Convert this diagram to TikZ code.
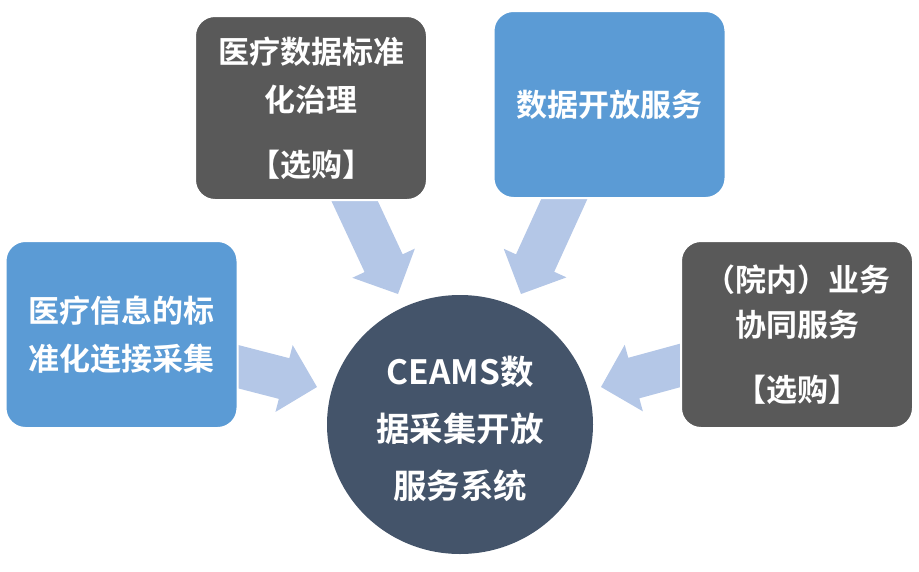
\documentclass[tikz,border=0pt]{standalone}
\usepackage{fontspec}
\setmainfont{Noto Sans CJK SC}[BoldFont={Noto Sans CJK SC Bold}]
\usetikzlibrary{calc,shapes.geometric}
\definecolor{boxblue}{HTML}{5B9BD5}
\definecolor{boxgray}{HTML}{595959}
\definecolor{circblue}{HTML}{44546A}
\definecolor{arrowblue}{HTML}{B4C7E7}
\tikzset{
  box/.style={rounded corners=20pt, draw=white, line width=2pt,
    minimum width=232pt, text=white, align=center,
    font=\bfseries\fontsize{31}{48}\selectfont},
  bluebox/.style={box, fill=boxblue},
  graybox/.style={box, fill=boxgray},
  hub/.style={ellipse, fill=circblue, minimum width=266pt, minimum height=259pt,
    inner sep=0pt},
  hubtextstyle/.style={text=white, align=center,
    font=\bfseries\fontsize{33.5}{57}\selectfont},
  arrowfill/.style={fill=arrowblue}
}
\newcommand\blockarrow[2]{%
  \coordinate (#1#2h) at ($(#2)!34pt!(#1)$);
  \fill[arrowfill] ($(#1)!21pt!90:(#2)$) -- ($(#1#2h)!21pt!90:(#2)$)
    -- ($(#1#2h)!34.5pt!90:(#2)$) -- (#2) -- ($(#1#2h)!34.5pt!-90:(#2)$)
    -- ($(#1#2h)!21pt!-90:(#2)$) -- ($(#1)!21pt!-90:(#2)$) -- cycle;}
\begin{document}
\begin{tikzpicture}[x=1pt,y=-1pt]
\useasboundingbox (0,0) rectangle (919,571);
% arrow end points
\coordinate (s1) at (342,174); \coordinate (t1) at (398,294);
\coordinate (s2) at (578,169); \coordinate (t2) at (521,294);
\coordinate (s3) at (220,362); \coordinate (t3) at (317,387);
\coordinate (s4) at (700,360); \coordinate (t4) at (601,387);
\blockarrow{s1}{t1}
\blockarrow{s2}{t2}
\blockarrow{s3}{t3}
\blockarrow{s4}{t4}
% boxes
\node[graybox, minimum height=184pt] (gov) at (311,108) {医疗数据标准\\化治理\\[17pt]【选购】};
\node[bluebox, minimum height=187pt] (open) at (609.5,104.5) {数据开放服务};
\node[bluebox, minimum height=187pt] (collect) at (121.5,334.5) {医疗信息的标\\准化连接采集};
\node[graybox, minimum height=187pt] (coop) at (797,334.5) {（院内）业务\\[-3pt]协同服务\\[17pt]【选购】};
\node[hub] (hubnode) at (460,424.5) {};
\node[hubtextstyle] (hubtext) at (460,428.5) {CEAMS数\\据采集开放\\服务系统};
\end{tikzpicture}
\end{document}
